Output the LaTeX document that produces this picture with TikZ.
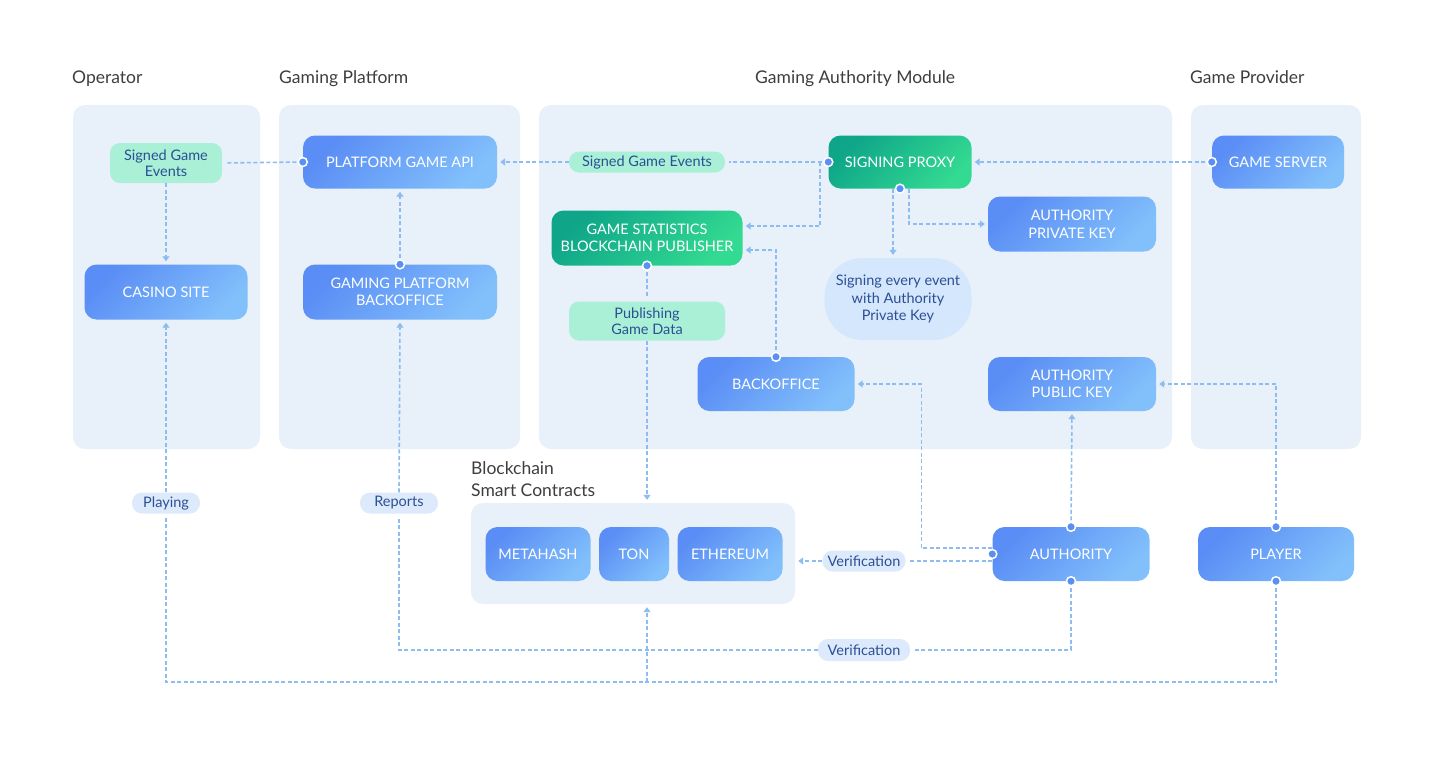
\documentclass[tikz,border=0pt]{standalone}
\usepackage{fontspec}
\setmainfont{Lato}
\usetikzlibrary{positioning,calc,arrows.meta}

\definecolor{panelbg}{HTML}{E8F0F9}
\definecolor{boxA}{HTML}{5A8DF5}
\definecolor{boxB}{HTML}{82C0FB}
\definecolor{greenA}{HTML}{0EA589}
\definecolor{greenB}{HTML}{33DA91}
\definecolor{greenpill}{HTML}{A9F0D6}
\definecolor{bluepill}{HTML}{DCEAFB}
\definecolor{notebg}{HTML}{D5E7FC}
\definecolor{pilltext}{HTML}{2C4F95}
\definecolor{linkc}{HTML}{8DBCF2}
\definecolor{dotc}{HTML}{5A90F3}
\definecolor{titlec}{HTML}{3E3E3E}

\begin{document}
\begin{tikzpicture}[x=1pt, y=-1pt,
    panel/.style={fill=panelbg, rounded corners=12pt},
    title/.style={anchor=base west, text=titlec, font=\fontsize{17.5}{22}\selectfont, align=left, inner sep=0pt},
    bbox/.style={rounded corners=12pt, left color=boxA, right color=boxB, shading angle=45,
                 text=white, align=center, font=\fontsize{14.5}{17.5}\selectfont, inner sep=2pt},
    gbox/.style={bbox, left color=greenA, right color=greenB, shading angle=45},
    gpill/.style={fill=greenpill, rounded corners=10pt, text=pilltext, align=center,
                  font=\fontsize{14.5}{16.5}\selectfont, inner sep=1pt},
    bpill/.style={gpill, fill=bluepill},
    note/.style={fill=notebg, rounded corners=38pt, text=pilltext, align=center,
                 font=\fontsize{14.5}{17.5}\selectfont},
    link/.style={draw=linkc, line width=1.6pt, dash pattern=on 4pt off 2.5pt,
                 shorten >=3pt},
    >={Triangle[width=7pt,length=5pt]},
    dot/.style={circle, fill=dotc, draw=white, line width=1.5pt, inner sep=0pt, minimum size=9pt}]
    \useasboundingbox (0,0) rectangle (1430,756);
    %\draw[step=50,gray,very thin] (0,0) grid (1430,756);

    % columns
    \fill[panel] (73,105) rectangle (260,449);
    \fill[panel] (279,105) rectangle (520,449);
    \fill[panel] (539,105) rectangle (1172,449);
    \fill[panel] (1191,105) rectangle (1361,449);
    \node[title] (tOperator) at (72,83) {Operator};
    \node[title] (tPlatform) at (279,83) {Gaming Platform};
    \node[title] (tAuthority) at (755,83) {Gaming Authority Module};
    \node[title] (tProvider) at (1190,83) {Game Provider};
    \node[title] (tChain) at (471,496) {Blockchain\\Smart Contracts};

    % operator + platform
    \node[gpill, minimum width=112pt, minimum height=40pt] (sgeOp) at (166,163) {Signed Game\\Events};
    \node[bbox, minimum width=163pt, minimum height=55pt] (casino) at (166,292) {CASINO SITE};
    \node[bbox, minimum width=194pt, minimum height=53pt] (api) at (400,162) {PLATFORM GAME API};
    \node[bbox, minimum width=194pt, minimum height=55pt] (gpback) at (400,292) {GAMING PLATFORM\\BACKOFFICE};

    % authority module
    \node[gpill, minimum width=156pt, minimum height=21pt] (sgeMid) at (647,162) {Signed Game Events};
    \node[gbox, minimum width=143pt, minimum height=53pt] (proxy) at (900,162) {SIGNING PROXY};
    \node[gbox, minimum width=191pt, minimum height=55pt] (stats) at (647,238) {GAME STATISTICS\\BLOCKCHAIN PUBLISHER};
    \node[bbox, minimum width=168pt, minimum height=55pt] (privkey) at (1072,224) {AUTHORITY\\PRIVATE KEY};
    \node[note, minimum width=147pt, minimum height=82pt] (signing) at (898,299) {Signing every event\\with Authority\\Private Key};
    \node[gpill, minimum width=156pt, minimum height=39pt] (publish) at (647,321) {Publishing\\Game Data};
    \node[bbox, minimum width=157pt, minimum height=54pt] (backoffice) at (776,384) {BACKOFFICE};
    \node[bbox, minimum width=168pt, minimum height=54pt] (pubkey) at (1072,384) {AUTHORITY\\PUBLIC KEY};

    % provider
    \node[bbox, minimum width=132pt, minimum height=53pt] (server) at (1278,162) {GAME SERVER};

    % blockchain
    \node[panel, minimum width=324pt, minimum height=101pt] (chain) at (633,553.5) {};
    \node[bbox, minimum width=105pt, minimum height=54pt] (metahash) at (538,554) {METAHASH};
    \node[bbox, minimum width=70pt, minimum height=54pt] (ton) at (634,554) {TON};
    \node[bbox, minimum width=105pt, minimum height=54pt] (eth) at (730,554) {ETHEREUM};

    % bottom row
    \node[bbox, minimum width=157pt, minimum height=54pt] (authority) at (1071,554) {AUTHORITY};
    \node[bbox, minimum width=156pt, minimum height=54pt] (player) at (1276,554) {PLAYER};

    \node[bpill, minimum width=68pt, minimum height=21pt] (playing) at (166,503) {Playing};
    \node[bpill, minimum width=78pt, minimum height=21pt] (reports) at (399,503) {Reports};
    \node[bpill, minimum width=83pt, minimum height=21pt] (verif1) at (864,561) {Verification};
    \node[bpill, minimum width=92pt, minimum height=22pt] (verif2) at (864,650) {Verification};

    \coordinate (fork) at (820,162);
    \coordinate (tap) at (647,682);

    % connectors
    \draw[link, shorten >=4pt] (api.west) -- (sgeOp.east);
    \draw[link,->] (sgeOp.south) -- (casino.north);
    \draw[link, shorten >=4pt] (proxy.west) -- (sgeMid.east);
    \draw[link,->] (sgeMid.west) -- (api.east);
    \draw[link,->] (fork) |- ([yshift=12pt]stats.east);
    \draw[link,->] (server.west) -- (proxy.east);
    \draw[link,->] ([xshift=-7pt]proxy.south) -- ([xshift=-7pt]proxy.south |- signing.north);
    \draw[link,->] ([xshift=9pt]proxy.south) |- (privkey.west);
    \draw[link, shorten >=4pt] (stats.south) -- (publish.north);
    \draw[link,->] (publish.south) -- (publish.south |- chain.north);
    \draw[link,->] (backoffice.north) |- ([yshift=-12pt]stats.east);
    \draw[link,->] (gpback.north) -- (api.south);
    \draw[link,->] ([yshift=6pt]authority.west) -- ++(-71,0) |- (backoffice.east);
    \draw[link, shorten >=4pt] ([yshift=-7pt]authority.west) -- (verif1.east);
    \draw[link,->] (verif1.west) -- (verif1.west -| chain.east);
    \draw[link,->] (authority.north) -- (pubkey.south);
    \draw[link,->] (player.north) |- (pubkey.east);
    \draw[link, shorten >=4pt] (authority.south) |- (verif2.east);
    \draw[link, shorten >=4pt] (verif2.west) -| (reports.south);
    \draw[link,->] (reports.north) -- (gpback.south);
    \draw[link, shorten >=4pt] (player.south) -- ++(0,101) -| (playing.south);
    \draw[link,->] (playing.north) -- (casino.south);
    \draw[link,->] (tap) -- (tap |- chain.south);

    \foreach \p in {api.west, proxy.west, server.west, proxy.south, stats.south,
                    backoffice.north, gpback.north, authority.west, authority.north,
                    authority.south, player.north, player.south}
        \node[dot] at (\p) {};
\end{tikzpicture}
\end{document}
